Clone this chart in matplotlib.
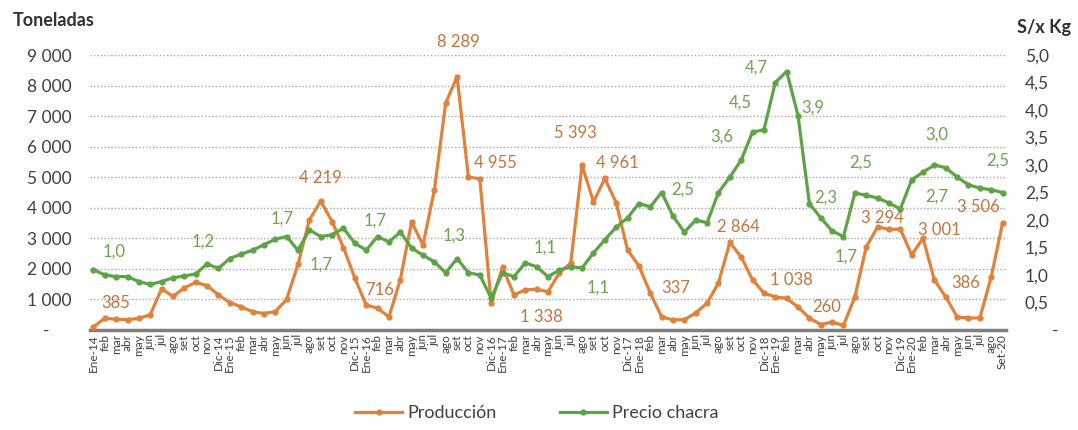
import matplotlib.pyplot as plt
from matplotlib.ticker import FuncFormatter

plt.rcParams['font.family'] = ['Lato', 'DejaVu Sans']

# ---------------- datos mensuales Ene-14 .. Set-20 ----------------
meses = [
    "Ene-14", "feb", "mar", "abr", "may", "jun", "jul", "ago", "set", "oct", "nov", "Dic-14",
    "Ene-15", "feb", "mar", "abr", "may", "jun", "jul", "ago", "set", "oct", "nov", "Dic-15",
    "Ene-16", "feb", "mar", "abr", "may", "jun", "jul", "ago", "set", "oct", "nov", "Dic-16",
    "Ene-17", "feb", "mar", "abr", "may", "jun", "jul", "ago", "set", "oct", "nov", "Dic-17",
    "Ene-18", "feb", "mar", "abr", "may", "jun", "jul", "ago", "set", "oct", "nov", "Dic-18",
    "Ene-19", "feb", "mar", "abr", "may", "jun", "jul", "ago", "set", "oct", "nov", "Dic-19",
    "Ene-20", "feb", "mar", "abr", "may", "jun", "jul", "ago", "Set-20",
]

produccion = [
    100, 385, 350, 340, 380, 500, 1350, 1100, 1380, 1560, 1450, 1150,
    900, 760, 600, 540, 600, 1000, 2150, 3600, 4219, 3550, 2700, 1700,
    820, 716, 430, 1640, 3540, 2780, 4580, 7430, 8289, 5000, 4955, 880,
    2060, 1150, 1310, 1338, 1250, 1870, 2190, 5393, 4190, 4961, 4160, 2620,
    2100, 1210, 430, 330, 337, 560, 880, 1540, 2864, 2390, 1640, 1210,
    1080, 1038, 750, 390, 180, 260, 150, 1080, 2720, 3370, 3294, 3300,
    2460, 3001, 1640, 1080, 430, 386, 400, 1740, 3506,
]

precio = [
    1.10, 1.00, 0.97, 0.97, 0.88, 0.83, 0.88, 0.95, 0.98, 1.02, 1.20, 1.12,
    1.30, 1.38, 1.45, 1.55, 1.65, 1.70, 1.45, 1.82, 1.70, 1.73, 1.85, 1.58,
    1.45, 1.70, 1.60, 1.78, 1.49, 1.36, 1.24, 1.04, 1.30, 1.04, 1.00, 0.58,
    1.04, 0.97, 1.22, 1.15, 0.97, 1.09, 1.15, 1.13, 1.40, 1.64, 1.87, 2.04,
    2.30, 2.24, 2.50, 2.07, 1.78, 2.00, 1.95, 2.50, 2.78, 3.09, 3.60, 3.64,
    4.50, 4.70, 3.90, 2.30, 2.04, 1.80, 1.70, 2.49, 2.45, 2.40, 2.31, 2.20,
    2.73, 2.87, 3.00, 2.95, 2.78, 2.64, 2.58, 2.55, 2.50,
]

# etiquetas de datos: indice del mes -> desplazamiento del texto (px)
etiq_prod = {1: (11, 15), 20: (0, 23), 25: (2, 18), 32: (1, 35), 34: (16, 16),
             39: (5, -28), 43: (-7, 32), 45: (13, 15), 52: (-9, 32), 56: (9, 15),
             61: (5, 18), 65: (-5, 15), 70: (-7, 11), 73: (16, 8), 77: (-3, 35),
             80: (-24, 16)}
etiq_precio = {1: (9, 23), 10: (-4, 22), 17: (-5, 18), 20: (0, -28), 25: (-2, 16),
               32: (-3, 23), 39: (8, 19), 43: (16, -20), 50: (21, 3), 58: (-31, -5),
               60: (-35, -20), 61: (-30, 4), 62: (15, 8), 63: (16, 6), 66: (3, -20),
               67: (6, 30), 72: (25, -17), 74: (2, 30), 80: (-5, 32)}

NARANJA = "#E0813C"
VERDE = "#5EA446"
GRIS = "#404040"

x = list(range(len(meses)))

fig = plt.figure(figsize=(10.78, 4.30), dpi=100)
ax = fig.add_axes([90 / 1078, 100 / 430, 916 / 1078, 275 / 430])
ax2 = ax.twinx()

l1, = ax.plot(x, produccion, color=NARANJA, lw=2.3, marker="o", ms=3.5, zorder=3)
l2, = ax2.plot(x, precio, color=VERDE, lw=2.3, marker="o", ms=3.5, zorder=3)

ax.set_xlim(-0.3, len(meses) - 0.7)
ax.set_ylim(0, 9000)
ax2.set_ylim(0, 5)

ax.set_yticks(range(0, 9001, 1000))
ax2.set_yticks([i * 0.5 for i in range(11)])
ax.yaxis.set_major_formatter(FuncFormatter(
    lambda v, _: "-     " if v == 0 else f"{int(v):,}".replace(",", " ")))
ax2.yaxis.set_major_formatter(FuncFormatter(
    lambda v, _: "      -" if v == 0 else f"{v:.1f}".replace(".", ",")))

ax.set_xticks(x)
ax.set_xticklabels(meses, rotation=90, fontsize=8.5, color=GRIS)
ax.tick_params(axis="x", length=0, pad=3)
ax.tick_params(axis="y", length=0, pad=13, labelsize=12.5, labelcolor=GRIS)
ax2.tick_params(axis="y", length=0, pad=13.5, labelsize=12.5, labelcolor=GRIS)

ax.yaxis.grid(True, linestyle=(0, (1, 1.5)), color="#A8A8A8", lw=1)
ax.set_axisbelow(True)

for s in ["top", "left", "right"]:
    ax.spines[s].set_visible(False)
for s in ax2.spines.values():
    s.set_visible(False)
ax.spines["bottom"].set_color("#7F7F7F")
ax.spines["bottom"].set_linewidth(2.5)

for i, (dx, dy) in etiq_prod.items():
    v = produccion[i]
    ax.annotate(f"{v:,}".replace(",", " "), (i, v), xytext=(dx, dy),
                textcoords="offset pixels", ha="center", va="center",
                fontsize=12, color="#C2743F", zorder=5)

for i, (dx, dy) in etiq_precio.items():
    v = precio[i]
    ax2.annotate(f"{v:.1f}".replace(".", ","), (i, v), xytext=(dx, dy),
                 textcoords="offset pixels", ha="center", va="center",
                 fontsize=12, color="#6BA34F", zorder=5)

fig.text(13 / 1078, 1 - 21 / 430, "Toneladas", ha="left", va="center",
         fontsize=13, fontweight="bold", color="#303030")
fig.text(1017 / 1078, 1 - 28 / 430, "S/x Kg", ha="left", va="center",
         fontsize=13, fontweight="bold", color="#303030")

fig.legend([l1, l2], ["Producción", "Precio chacra"], loc="center",
           bbox_to_anchor=(537 / 1078, 17 / 430), ncol=2, frameon=False,
           fontsize=13, handlelength=2.6, columnspacing=3.5, handletextpad=0.3,
           labelcolor=GRIS)

fig.savefig("out.png", dpi=100)
